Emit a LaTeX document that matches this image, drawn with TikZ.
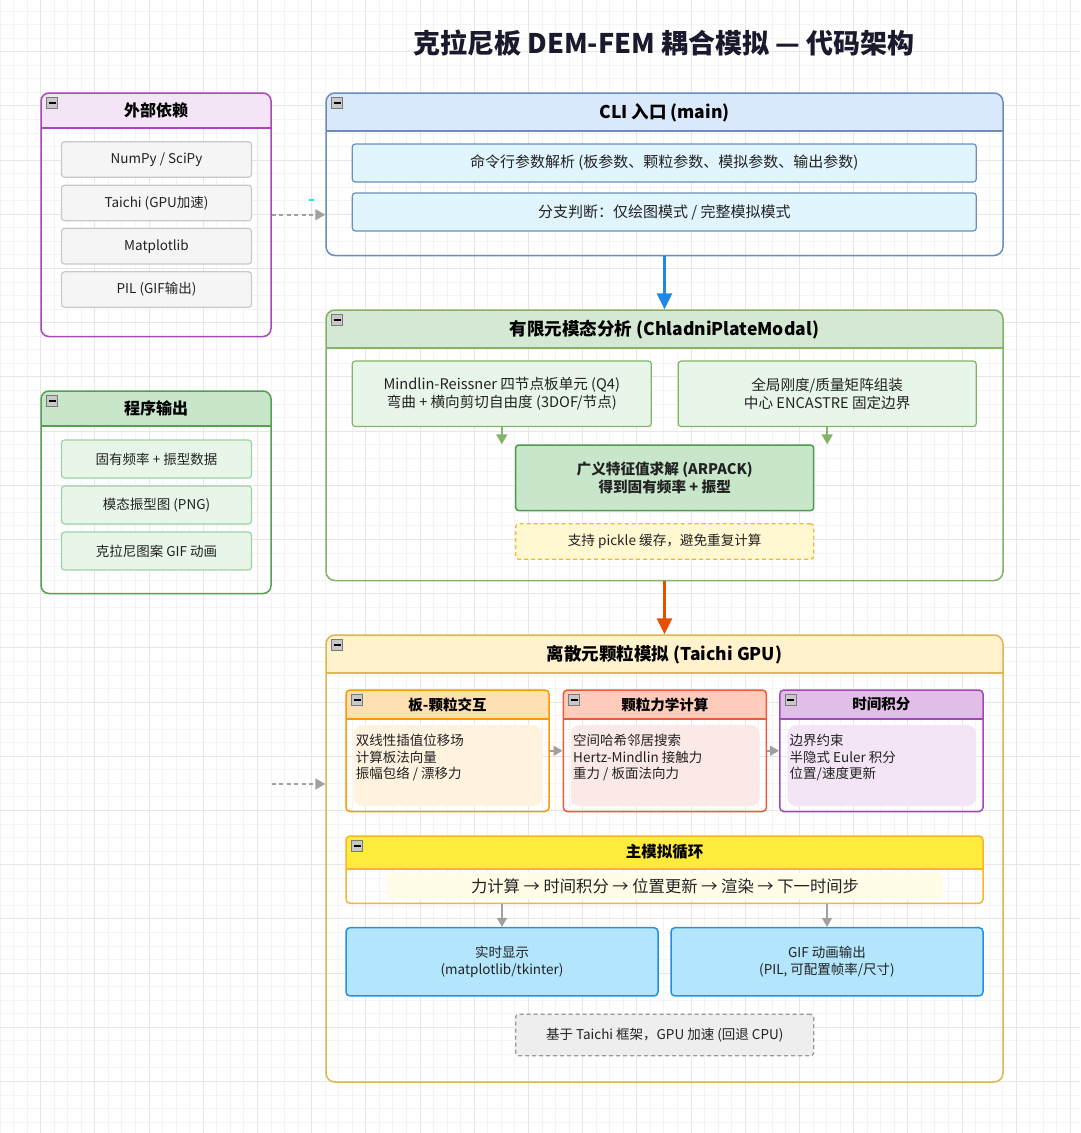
\documentclass[tikz,border=0pt]{standalone}
\usepackage{fontspec}
\setmainfont{Noto Sans CJK SC}
\usetikzlibrary{arrows.meta,fit}
\definecolor{txt}{HTML}{222222}
\definecolor{titletxt}{HTML}{1A1A2E}
\definecolor{gmin}{HTML}{F4F4F4}
\definecolor{gmaj}{HTML}{E6E6E6}
\definecolor{extB}{HTML}{AB47BC}\definecolor{extH}{HTML}{F3E5F5}
\definecolor{extIF}{HTML}{F5F5F5}\definecolor{extIB}{HTML}{C8C8C8}
\definecolor{outB}{HTML}{55A055}\definecolor{outH}{HTML}{C8E6C9}
\definecolor{outIF}{HTML}{E8F5E9}\definecolor{outIB}{HTML}{9ED3A1}
\definecolor{cliB}{HTML}{6C8EBF}\definecolor{cliH}{HTML}{DAE8FC}
\definecolor{cliIF}{HTML}{E1F5FE}
\definecolor{femB}{HTML}{82B366}\definecolor{femH}{HTML}{D5E8D4}
\definecolor{femIF}{HTML}{E8F5E9}
\definecolor{eigF}{HTML}{C8E6C9}\definecolor{eigB}{HTML}{4D9B4D}
\definecolor{pklF}{HTML}{FFF8D0}\definecolor{pklB}{HTML}{F2B632}
\definecolor{demB}{HTML}{DDB655}\definecolor{demH}{HTML}{FFF2CC}
\definecolor{saB}{HTML}{FF9800}\definecolor{saH}{HTML}{FFE0B2}\definecolor{saI}{HTML}{FFF3E0}
\definecolor{sbB}{HTML}{EC5A36}\definecolor{sbH}{HTML}{FFCCBC}\definecolor{sbI}{HTML}{FBE9E7}
\definecolor{scB}{HTML}{A347B8}\definecolor{scH}{HTML}{E1BEE7}\definecolor{scI}{HTML}{F3E5F5}
\definecolor{lpB}{HTML}{F9B42D}\definecolor{lpH}{HTML}{FFEB3B}\definecolor{lpI}{HTML}{FFFDE7}
\definecolor{dpF}{HTML}{B3E5FC}\definecolor{dpB}{HTML}{2490E2}
\definecolor{ntF}{HTML}{EEEEEE}\definecolor{ntB}{HTML}{9A9A9A}
\definecolor{arBlue}{HTML}{1E88E5}\definecolor{arOrange}{HTML}{E65100}
\definecolor{arGray}{HTML}{A0A0A0}\definecolor{cyanmk}{HTML}{22E5F0}
\definecolor{icF}{HTML}{C8C8C8}\definecolor{icB}{HTML}{7A7A7A}

\newcommand\collapseicon[2]{%
  \filldraw[fill=icF, draw=icB, line width=0.8] (#1,#2) rectangle ++(11,11);
  \draw[black, line width=1.4] ({#1+2},{#2+5.5}) -- ++(7,0);
}
% name, x1, y1, x2, y2, header bottom, border, header fill, radius
\newcommand\lane[9]{%
  \begin{scope}
    \clip[rounded corners=#9] (#2,#3) rectangle (#4,#5);
    \fill[#8] (#2,#3) rectangle (#4,#6);
  \end{scope}
  \draw[#7, line width=1.5] (#2,#6) -- (#4,#6);
  \node[fit={(#2,#3) (#4,#5)}, inner sep=0pt, draw=#7, line width=1.5, rounded corners=#9] (#1) {};
  \collapseicon{#2+5.5}{#3+4.5}
}

\begin{document}
\begin{tikzpicture}[x=1pt, y=-1pt,
  bigtitle/.style={font=\bfseries\fontsize{27}{30}\selectfont, text=titletxt, inner sep=0},
  lanetitle/.style={font=\bfseries\fontsize{17.5}{20}\selectfont, text=black, inner sep=0},
  sidetitle/.style={font=\bfseries\fontsize{16}{19}\selectfont, text=black, inner sep=0},
  subtitle/.style={font=\bfseries\fontsize{14.5}{17}\selectfont, text=black, inner sep=0},
  item/.style={rounded corners=3, line width=1.2, align=center, text=txt,
    font=\fontsize{13.5}{17}\selectfont, inner sep=0},
  femtxt/.style={font=\fontsize{14.6}{18}\selectfont},
  innertxt/.style={anchor=north west, align=left, inner sep=0, text=txt,
    font=\fontsize{13.5}{16.6}\selectfont},
  innerbox/.style={inner sep=0, rounded corners=9, draw=none},
  bluearr/.style={draw=arBlue, line width=3, -{Triangle[length=16pt,width=15pt]}},
  orangearr/.style={draw=arOrange, line width=3, -{Triangle[length=16pt,width=15pt]}},
  greenarr/.style={draw=femB, line width=1.5, -{Triangle[length=10pt,width=11pt]}},
  grayarr/.style={draw=arGray, line width=1.5, -{Triangle[length=9pt,width=10pt]}},
  dasharr/.style={draw=arGray, line width=1.5, dash pattern=on 4pt off 3.5pt, -{Triangle[length=10pt,width=11pt]}}
]
\useasboundingbox (0,0) rectangle (1080,1133);
\fill[white] (0,0) rectangle (1080,1133);
% grid
\foreach \i in {0,...,80} \draw[gmin, line width=1] ({\i*13.55},0) -- ++(0,1133);
\foreach \i in {0,...,84} \draw[gmin, line width=1] (0,{11.05+\i*13.55}) -- ++(1080,0);
\foreach \i in {0,...,20} \draw[gmaj, line width=1] ({-13.5+\i*54.2},0) -- ++(0,1133);
\foreach \i in {0,...,21} \draw[gmaj, line width=1] (0,{-2.5+\i*54.2}) -- ++(1080,0);

% title
\node[bigtitle] (title) at (664,43) {克拉尼板 DEM-FEM 耦合模拟 — 代码架构};

% external dependencies
\lane{ext}{41}{93}{271}{336.5}{128}{extB}{extH}{8}
\node[sidetitle] (extT) at (156,110.5) {外部依赖};
\node[item, fill=extIF, draw=extIB, minimum width=190, minimum height=35.5] (d1) at (156.5,159.5) {NumPy / SciPy};
\node[item, fill=extIF, draw=extIB, minimum width=190, minimum height=35.5] (d2) at (156.5,203) {Taichi (GPU加速)};
\node[item, fill=extIF, draw=extIB, minimum width=190, minimum height=35.5] (d3) at (156.5,246.2) {Matplotlib};
\node[item, fill=extIF, draw=extIB, minimum width=190, minimum height=35.5] (d4) at (156.5,289.5) {PIL (GIF输出)};

% program outputs
\lane{out}{41}{391}{271}{593.5}{426}{outB}{outH}{8}
\node[sidetitle] (outT) at (156,408.5) {程序输出};
\node[item, fill=outIF, draw=outIB, minimum width=190, minimum height=38] (o1) at (156.5,459) {固有频率 + 振型数据};
\node[item, fill=outIF, draw=outIB, minimum width=190, minimum height=38] (o2) at (156.5,505) {模态振型图 (PNG)};
\node[item, fill=outIF, draw=outIB, minimum width=190, minimum height=38] (o3) at (156.5,551) {克拉尼图案 GIF 动画};

% CLI
\lane{cli}{326}{93}{1003}{255.5}{131}{cliB}{cliH}{9}
\node[lanetitle] (cliT) at (664.5,112.5) {CLI 入口 (main)};
\node[item, fill=cliIF, draw=cliB, minimum width=624, minimum height=38, font=\fontsize{15}{17}\selectfont] (c1) at (664.3,163) {命令行参数解析 (板参数、颗粒参数、模拟参数、输出参数)};
\node[item, fill=cliIF, draw=cliB, minimum width=624, minimum height=38, font=\fontsize{15}{17}\selectfont] (c2) at (664.3,212) {分支判断：仅绘图模式 / 完整模拟模式};

% FEM
\lane{fem}{326}{310}{1003}{580.5}{348}{femB}{femH}{9}
\node[lanetitle] (femT) at (664.5,329.5) {有限元模态分析 (ChladniPlateModal)};
\node[item, femtxt, fill=femIF, draw=femB, minimum width=299, minimum height=65.5] (f1) at (501.8,393.8) {Mindlin-Reissner 四节点板单元 (Q4)\\弯曲 + 横向剪切自由度 (3DOF/节点)};
\node[item, femtxt, fill=femIF, draw=femB, minimum width=298, minimum height=65.5] (f2) at (827.2,393.8) {全局刚度/质量矩阵组装\\中心 ENCASTRE 固定边界};
\node[item, femtxt, fill=eigF, draw=eigB, line width=1.5, minimum width=298, minimum height=65.5, font=\bfseries\fontsize{14.6}{18}\selectfont] (eig) at (664.7,477.8) {广义特征值求解 (ARPACK)\\得到固有频率 + 振型};
\node[item, fill=pklF, draw=pklB, line width=1.3, dash pattern=on 4pt off 3pt, minimum width=298, minimum height=35.5, font=\fontsize{13.6}{17}\selectfont] (pkl) at (664.7,541.5) {支持 pickle 缓存，避免重复计算};
\draw[greenarr] (f1.south) -- (f1.south |- eig.north);
\draw[greenarr] (f2.south) -- (f2.south |- eig.north);

% DEM
\lane{dem}{326}{635}{1003}{1082}{673}{demB}{demH}{9}
\node[lanetitle] (demT) at (664.5,655) {离散元颗粒模拟 (Taichi GPU)};

\lane{sa}{346}{690}{549}{811.5}{719}{saB}{saH}{4}
\node[subtitle] (saT) at (447.5,704.5) {板-颗粒交互};
\node[innerbox, fill=saI, fit={(353.5,725) (542.3,806)}] (saIn) {};
\node[innertxt] (saTx) at (355.7,734) {双线性插值位移场\\计算板法向量\\振幅包络 / 漂移力};

\lane{sb}{563.3}{690}{766.4}{811.5}{719}{sbB}{sbH}{4}
\node[subtitle] (sbT) at (664.8,704.5) {颗粒力学计算};
\node[innerbox, fill=sbI, fit={(570.8,725) (759.6,806)}] (sbIn) {};
\node[innertxt] (sbTx) at (573,734) {空间哈希邻居搜索\\Hertz-Mindlin 接触力\\重力 / 板面法向力};

\lane{sc}{779.8}{690}{983}{811.5}{719}{scB}{scH}{4}
\node[subtitle] (scT) at (881.4,704.5) {时间积分};
\node[innerbox, fill=scI, fit={(787.3,725) (976.2,806)}] (scIn) {};
\node[innertxt] (scTx) at (789.5,734) {边界约束\\半隐式 Euler 积分\\位置/速度更新};

\draw[grayarr] (sa.east) -- (sb.west);
\draw[grayarr] (sb.east) -- (sc.west);

\lane{lp}{346}{836}{983}{903.3}{869}{lpB}{lpH}{4}
\node[subtitle, font=\bfseries\fontsize{15.5}{18}\selectfont] (lpT) at (664.5,851.5) {主模拟循环};
\node[innerbox, rounded corners=4, fill=lpI, minimum width=556, minimum height=26.6, font=\fontsize{16.3}{18}\selectfont, text=txt] (lpIn) at (665,886) {力计算 → 时间积分 → 位置更新 → 渲染 → 下一时间步};

\node[item, fill=dpF, draw=dpB, line width=1.5, minimum width=312, minimum height=68.3, rounded corners=4] (dp1) at (502,961.8) {实时显示\\(matplotlib/tkinter)};
\node[item, fill=dpF, draw=dpB, line width=1.5, minimum width=312, minimum height=68.3, rounded corners=4] (dp2) at (827,961.8) {GIF 动画输出\\(PIL, 可配置帧率/尺寸)};
\draw[grayarr] (dp1.north |- lp.south) -- (dp1.north);
\draw[grayarr] (dp2.north |- lp.south) -- (dp2.north);

\node[item, fill=ntF, draw=ntB, line width=1.3, dash pattern=on 4pt off 3pt, minimum width=298, minimum height=41.5] (note) at (664.7,1035) {基于 Taichi 框架，GPU 加速 (回退 CPU)};

% main flow
\draw[bluearr] (cli.south) -- (fem.north);
\draw[orangearr] (fem.south) -- (dem.north);

% dashed links
\draw[dasharr] (ext.east) -- (ext.east -| cli.west);
\coordinate (demsrc) at (271.5,784);
\draw[dasharr] (demsrc) -- (demsrc -| dem.west);

% small cyan mark
\coordinate (mk) at (308.5,200);
\draw[cyanmk, line width=2] (mk) -- ++(5,0);
\end{tikzpicture}
\end{document}
